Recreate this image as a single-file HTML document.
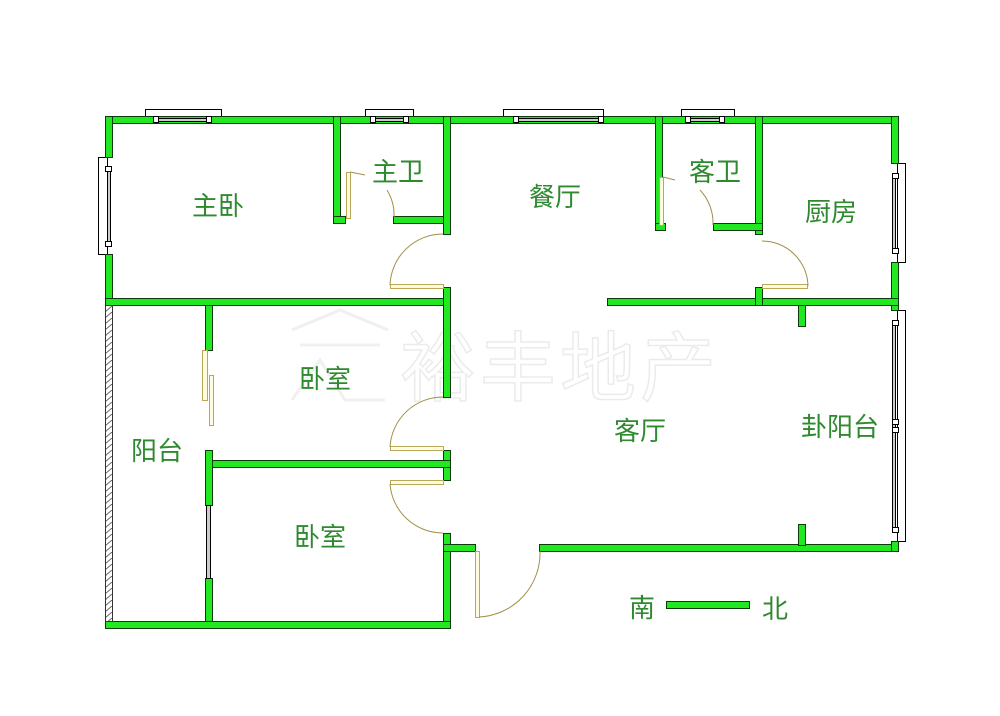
<!DOCTYPE html>
<html><head><meta charset="utf-8"><style>
html,body{margin:0;padding:0;background:#fff;}
svg{display:block;}
text{font-family:"Liberation Sans","Noto Sans CJK SC",sans-serif;}
</style></head><body>
<svg width="1000" height="716" viewBox="0 0 1000 716" xmlns="http://www.w3.org/2000/svg">
<rect width="1000" height="716" fill="#fff"/>
<!-- watermark -->
<text x="400" y="395" font-size="76" fill="none" stroke="#ebebeb" stroke-width="1.5" letter-spacing="4" style="font-family:'Noto Sans CJK SC',sans-serif">裕丰地产</text>
<path d="M292 330 L340 310 L388 330 M300 345 H380 M292 400 L320 360 L345 400 H385" fill="none" stroke="#f0f0f0" stroke-width="3"/>

<!-- windows (outer frames) -->
<g fill="#fff" stroke="#000" stroke-width="1">
<rect x="145.5" y="109.5" width="76" height="9"/>
<rect x="365.5" y="109.5" width="48" height="9"/>
<rect x="503.5" y="109.5" width="100" height="9"/>
<rect x="681.5" y="109.5" width="53" height="9"/>
<rect x="98.5" y="157.5" width="9" height="97"/>
<rect x="897.5" y="163.5" width="8" height="99"/>
<rect x="897.5" y="310.5" width="8" height="231"/>
</g>

<!-- walls -->
<g fill="#22e822" stroke="#0b3b0b" stroke-width="1">
<rect x="105.5" y="116.5" width="793" height="7"/>
<rect x="105.5" y="116.5" width="7" height="41"/>
<rect x="105.5" y="254.5" width="7" height="51"/>
<rect x="105.5" y="298.5" width="343" height="7"/>
<rect x="333.5" y="116.5" width="7" height="106"/>
<rect x="333.5" y="216.5" width="12" height="7"/>
<rect x="393.5" y="216.5" width="55" height="7"/>
<rect x="443.5" y="116.5" width="7" height="118"/>
<rect x="443.5" y="287.5" width="7" height="110"/>
<rect x="443.5" y="450.5" width="7" height="30"/>
<rect x="443.5" y="533.5" width="7" height="95"/>
<rect x="205.5" y="460.5" width="245" height="7"/>
<rect x="205.5" y="305.5" width="7" height="45"/>
<rect x="205.5" y="450.5" width="7" height="55"/>
<rect x="205.5" y="578.5" width="7" height="50"/>
<rect x="105.5" y="621.5" width="345" height="7"/>
<rect x="443.5" y="544.5" width="32" height="7"/>
<rect x="539.5" y="544.5" width="359" height="7"/>
<rect x="891.5" y="116.5" width="7" height="47"/>
<rect x="891.5" y="262.5" width="7" height="48"/>
<rect x="891.5" y="541.5" width="7" height="10"/>
<rect x="607.5" y="298.5" width="291" height="7"/>
<rect x="755.5" y="116.5" width="7" height="118"/>
<rect x="755.5" y="287.5" width="7" height="18"/>
<rect x="798.5" y="305.5" width="7" height="21"/>
<rect x="798.5" y="524.5" width="7" height="21"/>
<rect x="655.5" y="116.5" width="7" height="113"/>
<rect x="655.5" y="223.5" width="10" height="7"/>
<rect x="713.5" y="223.5" width="49" height="7"/>
</g>

<!-- window glass -->
<g fill="#ccc" stroke="#000" stroke-width="1">
<rect x="158.5" y="118.5" width="48" height="3"/>
<rect x="375.5" y="118.5" width="28" height="3"/>
<rect x="518.5" y="118.5" width="80" height="3"/>
<rect x="690.5" y="118.5" width="34" height="3"/>
<rect x="107.5" y="170.5" width="3" height="72"/>
<rect x="892.5" y="178.5" width="3" height="70"/>
<rect x="892.5" y="322.5" width="3" height="208"/>
<rect x="206.5" y="505.5" width="4" height="73"/>
</g>
<g fill="#fff" stroke="#000" stroke-width="1">
<rect x="153.5" y="116.5" width="5" height="6"/><rect x="206.5" y="116.5" width="5" height="6"/>
<rect x="370.5" y="116.5" width="5" height="6"/><rect x="403.5" y="116.5" width="5" height="6"/>
<rect x="513.5" y="116.5" width="5" height="6"/><rect x="598.5" y="116.5" width="5" height="6"/>
<rect x="685.5" y="116.5" width="5" height="6"/><rect x="719.5" y="116.5" width="5" height="6"/>
<rect x="105.5" y="166.5" width="6" height="5"/><rect x="105.5" y="241.5" width="6" height="5"/>
<rect x="892.5" y="173.5" width="6" height="5"/><rect x="892.5" y="248.5" width="6" height="5"/>
<rect x="892.5" y="320.5" width="6" height="5"/><rect x="892.5" y="419.5" width="6" height="5"/>
<rect x="892.5" y="427.5" width="6" height="5"/><rect x="892.5" y="527.5" width="6" height="5"/>
</g>

<!-- hatched balcony wall -->
<defs><pattern id="h" width="7" height="6" patternUnits="userSpaceOnUse"><path d="M0 6 L7 0" stroke="#666" stroke-width="1"/></pattern></defs>
<rect x="105.5" y="305.5" width="7" height="316" fill="url(#h)" stroke="#333" stroke-width="1"/>

<!-- doors -->
<g fill="#fffbe0" stroke="#b9a85a" stroke-width="1">
<rect x="390.5" y="284.5" width="53" height="4"/>
<rect x="390.5" y="446.5" width="53" height="4"/>
<rect x="390.5" y="480.5" width="53" height="4"/>
<rect x="762.5" y="284.5" width="45" height="4"/>
<rect x="475.5" y="551.5" width="4" height="66"/>
<rect x="346.5" y="172.5" width="4" height="46"/>
<rect x="659.5" y="177.5" width="4" height="48"/>
<rect x="202.5" y="350.5" width="5" height="50"/>
<rect x="209.5" y="375.5" width="4" height="50"/>
</g>
<g fill="none" stroke="#a0904a" stroke-width="1">
<path d="M390 285 A53 53 0 0 1 443 234"/>
<path d="M390 447 A53 53 0 0 1 443 397"/>
<path d="M390 484 A53 53 0 0 0 443 533"/>
<path d="M762 241 A46 46 0 0 1 808 286"/>
<path d="M479 617 A64 64 0 0 0 540 551"/>
<path d="M350 172 L365 175 M387 190 A48 48 0 0 1 394 217"/>
<path d="M663 177 L675 180 M700 190 A48 48 0 0 1 713 225"/>
</g>

<!-- labels -->
<g fill="#2f8a2f" font-size="26">
<text x="218" y="215" text-anchor="middle">主卧</text>
<text x="398" y="181" text-anchor="middle">主卫</text>
<text x="555" y="206" text-anchor="middle">餐厅</text>
<text x="715" y="181" text-anchor="middle">客卫</text>
<text x="831" y="221" text-anchor="middle">厨房</text>
<text x="325" y="388" text-anchor="middle">卧室</text>
<text x="157" y="460" text-anchor="middle">阳台</text>
<text x="640" y="440" text-anchor="middle">客厅</text>
<text x="840" y="436" text-anchor="middle">卦阳台</text>
<text x="320" y="546" text-anchor="middle">卧室</text>
<text x="642" y="617" text-anchor="middle">南</text>
<text x="775" y="618" text-anchor="middle">北</text>
</g>
<rect x="666.5" y="601.5" width="83" height="7" fill="#22e822" stroke="#0b3b0b" stroke-width="1"/>
</svg>
</body></html>
